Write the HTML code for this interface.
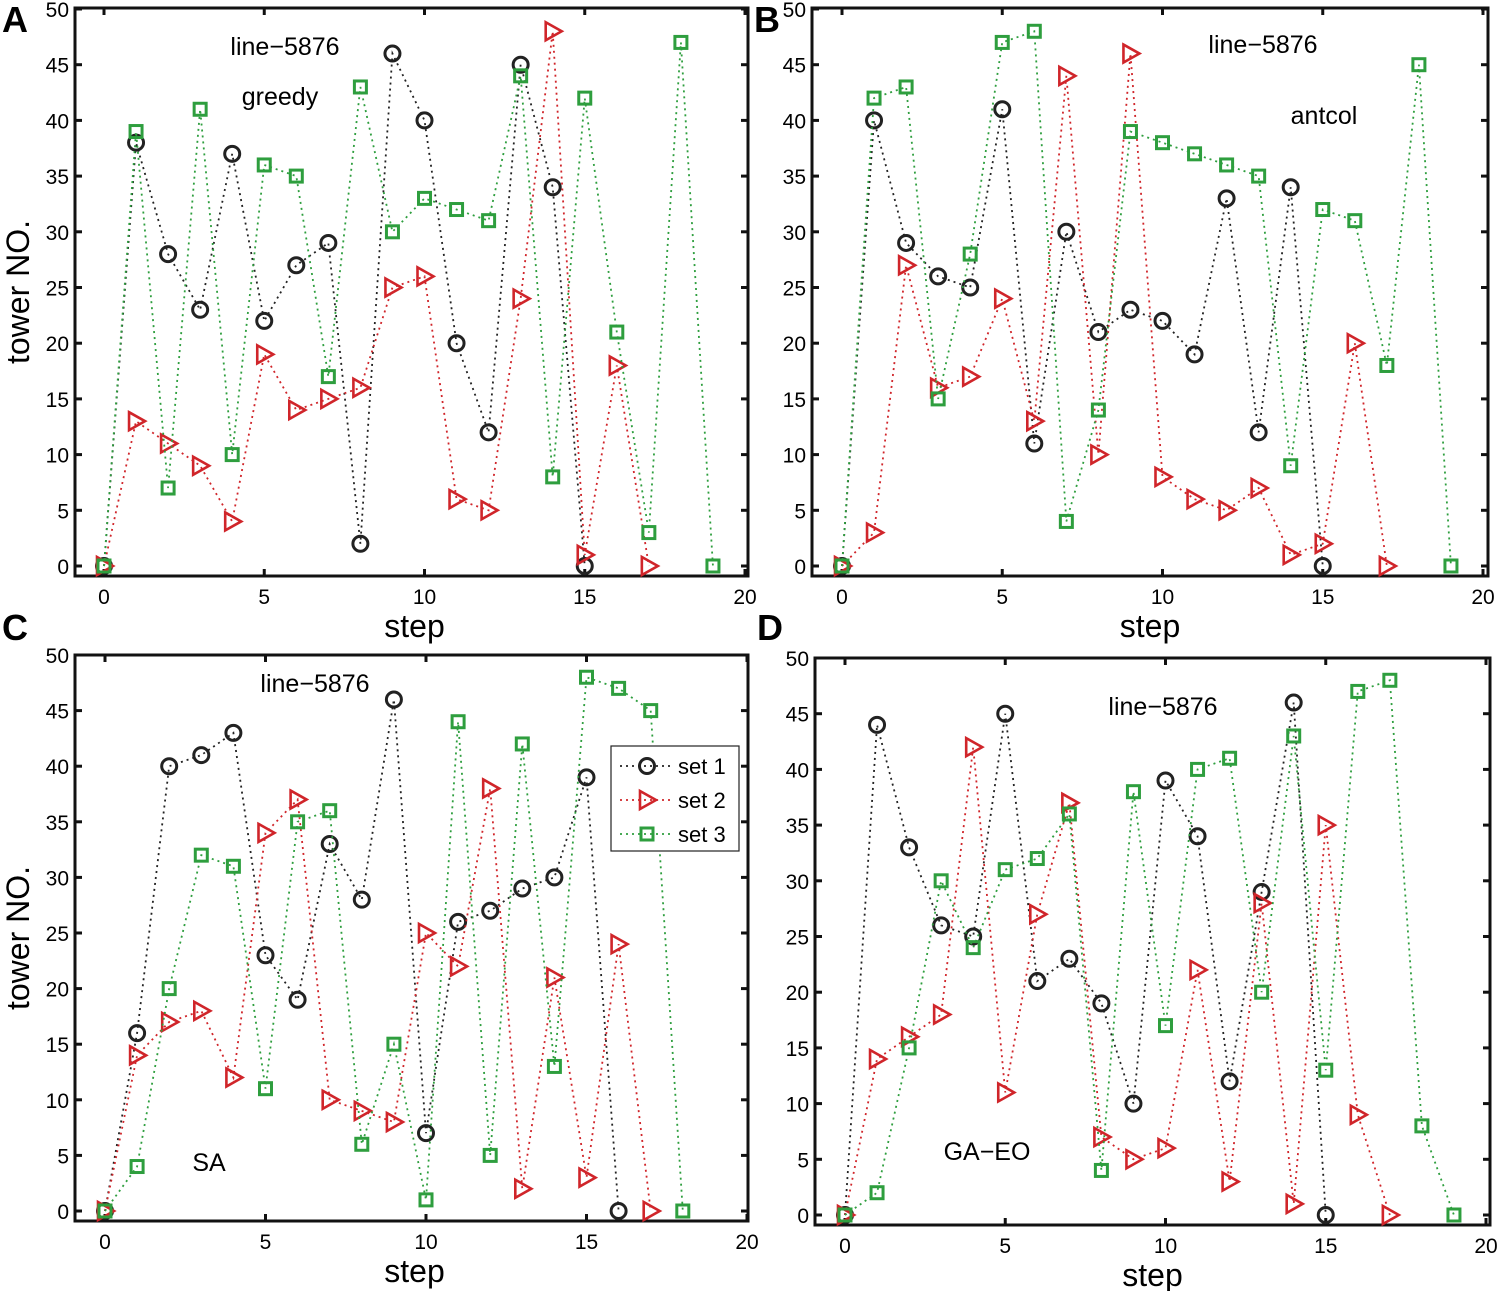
<!DOCTYPE html>
<html><head><meta charset="utf-8"><style>
body{margin:0;background:#fff;}
svg text{font-family:"Liberation Sans",sans-serif;}
</style></head><body>
<svg id="c" width="1500" height="1291" viewBox="0 0 1500 1291" xmlns="http://www.w3.org/2000/svg"></svg>
<script>
const xTicks=[0,5,10,15,20];
const yTicks=[0,5,10,15,20,25,30,35,40,45,50];
const aSet1=[0,38,28,23,37,22,27,29,2,46,40,20,12,45,34,0];
const aSet2=[0,13,11,9,4,19,14,15,16,25,26,6,5,24,48,1,18,0];
const aSet3=[0,39,7,41,10,36,35,17,43,30,33,32,31,44,8,42,21,3,47,0];
const bSet1=[0,40,29,26,25,41,11,30,21,23,22,19,33,12,34,0];
const bSet2=[0,3,27,16,17,24,13,44,10,46,8,6,5,7,1,2,20,0];
const bSet3=[0,42,43,15,28,47,48,4,14,39,38,37,36,35,9,32,31,18,45,0];
const cSet1=[0,16,40,41,43,23,19,33,28,46,7,26,27,29,30,39,0];
const cSet2=[0,14,17,18,12,34,37,10,9,8,25,22,38,2,21,3,24,0];
const cSet3=[0,4,20,32,31,11,35,36,6,15,1,44,5,42,13,48,47,45,0];
const dSet1=[0,44,33,26,25,45,21,23,19,10,39,34,12,29,46,0];
const dSet2=[0,14,16,18,42,11,27,37,7,5,6,22,3,28,1,35,9,0];
const dSet3=[0,2,15,30,24,31,32,36,4,38,17,40,41,20,43,13,47,48,8,0];
const panels=[
 {id:'a',letter:'A',lx:2,ly:32,L:75,R:748,T:8,B:576,x0:104,x20:745,y0:566,y50:9,s:[aSet1,aSet2,aSet3],
  labels:[['line−5876',285,55],['greedy',280,105]],ylab:true,legend:false},
 {id:'b',letter:'B',lx:754,ly:32,L:812,R:1488,T:8,B:576,x0:842,x20:1483,y0:566,y50:9,s:[bSet1,bSet2,bSet3],
  labels:[['line−5876',1263,53],['antcol',1324,124]],ylab:false,legend:false},
 {id:'c',letter:'C',lx:2,ly:640,L:75,R:748,T:655,B:1221,x0:105,x20:747,y0:1211,y50:655,s:[cSet1,cSet2,cSet3],
  labels:[['line−5876',315,692],['SA',209,1171]],ylab:true,legend:true},
 {id:'d',letter:'D',lx:757,ly:640,L:815,R:1490,T:658,B:1225,x0:845,x20:1486,y0:1215,y50:658,s:[dSet1,dSet2,dSet3],
  labels:[['line−5876',1163,715],['GA−EO',987,1160]],ylab:false,legend:false}
];
const NS='http://www.w3.org/2000/svg';
const svg=document.getElementById('c');
function mk(tag,attrs,parent){const e=document.createElementNS(NS,tag);for(const k in attrs)e.setAttribute(k,attrs[k]);(parent||svg).appendChild(e);return e;}
const colors=['#222','#d0252a','#2e9e3e'];
function marker(g,k,x,y){
 let m;
 if(k===0)m=mk('circle',{cx:x,cy:y,r:7.5,fill:'none',stroke:'#222','stroke-width':3},g);
 else if(k===1)m=mk('path',{d:`M${x-7},${y-9}L${x+9},${y}L${x-7},${y+9}Z`,fill:'none',stroke:'#d0252a','stroke-width':2.6},g);
 else m=mk('rect',{x:x-6,y:y-6,width:12,height:12,fill:'none',stroke:'#2e9e3e','stroke-width':3},g);
 return m;
}
panels.forEach(p=>{
 const g=mk('g',{});
 
 
 const X=v=>p.x0+(p.x20-p.x0)*v/20, Y=v=>p.y0+(p.y50-p.y0)*v/50;
 const ax=mk('rect',{x:p.L,y:p.T,width:p.R-p.L,height:p.B-p.T,fill:'none',stroke:'#111','stroke-width':3},g);
 
 xTicks.forEach(t=>{
  mk('line',{x1:X(t),x2:X(t),y1:p.B,y2:p.B-7,stroke:'#111','stroke-width':3},g);
  mk('line',{x1:X(t),x2:X(t),y1:p.T,y2:p.T+7,stroke:'#111','stroke-width':3},g);
  const tl=mk('text',{x:X(t),y:p.B+28,'font-size':21,'text-anchor':'middle',fill:'#000'},g);tl.textContent=t;
  
 });
 yTicks.forEach(t=>{
  mk('line',{x1:p.L,x2:p.L+7,y1:Y(t),y2:Y(t),stroke:'#111','stroke-width':3},g);
  mk('line',{x1:p.R,x2:p.R-7,y1:Y(t),y2:Y(t),stroke:'#111','stroke-width':3},g);
  const tl=mk('text',{x:p.L-6,y:Y(t)+8,'font-size':21,'text-anchor':'end',fill:'#000'},g);tl.textContent=t;
  
 });
 p.s.forEach((arr,k)=>{
  const pts=arr.map((v,i)=>X(i)+','+Y(v)).join(' ');
  const pl=mk('polyline',{points:pts,fill:'none',stroke:colors[k],'stroke-width':1.8,'stroke-dasharray':'2,4'},g);
  
  arr.forEach((v,i)=>{const m=marker(g,k,X(i),Y(v));
   });
 });
 const xl=mk('text',{x:(p.L+p.R)/2+(p.id==='a'||p.id==='c'?3:0),y:p.B+61,'font-size':32,'text-anchor':'middle',fill:'#000'},g);
 xl.textContent='step';
 if(p.ylab){const yl=mk('text',{x:0,y:0,'font-size':32,'text-anchor':'middle',fill:'#000',transform:`translate(29,${(p.T+p.B)/2}) rotate(-90)`},g);
  yl.textContent='tower NO.';}
 const lt=mk('text',{x:p.lx,y:p.ly,'font-size':36,'font-weight':'bold',fill:'#000'},g);
 lt.textContent=p.letter;
 p.labels.forEach(l=>{const t=mk('text',{x:l[1],y:l[2],'font-size':25,'text-anchor':'middle',fill:'#000'},g);t.textContent=l[0];
  });
 if(p.legend){
  const lg=mk('g',{},g);
  mk('rect',{x:611,y:746,width:128,height:105,fill:'#fff',stroke:'#222','stroke-width':1.2},lg);
  ['set 1','set 2','set 3'].forEach((s,k)=>{
   const y=766+k*34;
   const e=mk('g',{},lg);
   mk('line',{x1:620,x2:672,y1:y,y2:y,stroke:colors[k],'stroke-width':1.8,'stroke-dasharray':'2,4'},e);
   marker(e,k,647,y);
   const t=mk('text',{x:678,y:y+8,'font-size':22,fill:'#000'},e);t.textContent=s;
  });
 }
});
</script>
</body></html>
